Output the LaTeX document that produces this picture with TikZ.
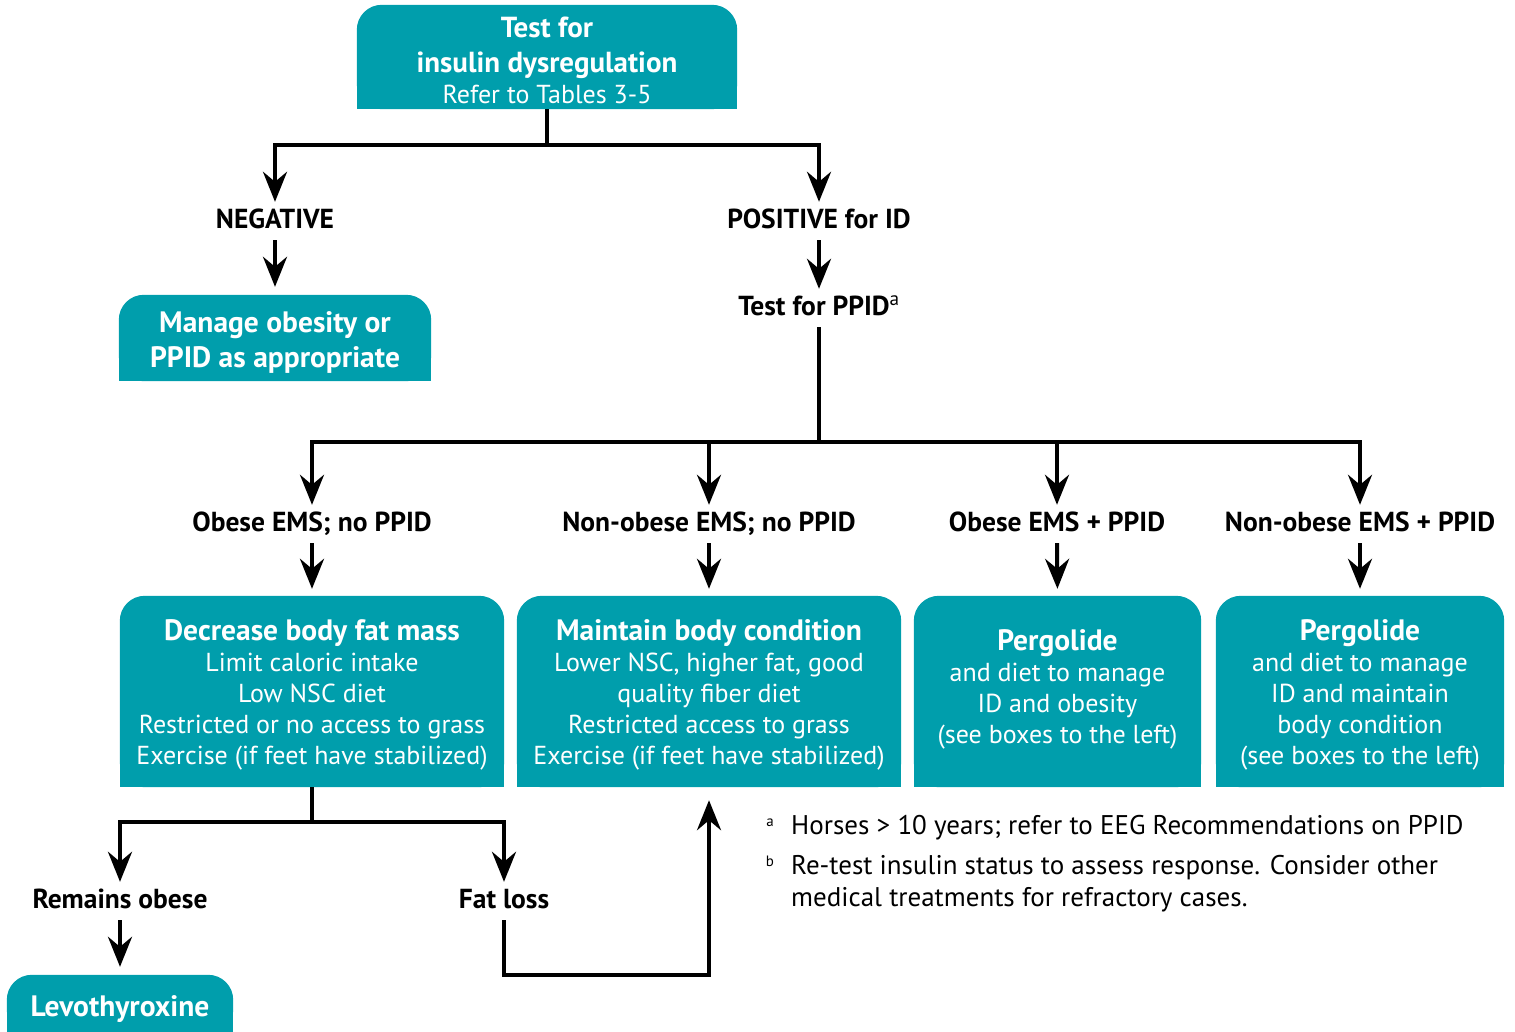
\documentclass[tikz,border=0pt]{standalone}
\usepackage{fontspec}
\setmainfont{PT Sans}
\usetikzlibrary{arrows.meta,backgrounds}
\definecolor{tealbox}{RGB}{0,158,172}
\newcommand\tbfill[1]{%
  \fill[tealbox,rounded corners=25pt] (#1.south west) rectangle (#1.north east);
  \fill[tealbox] (#1.south west) rectangle (#1.east);}
\newcommand\bt[1]{{\bfseries\fontsize{29.5}{31}\selectfont #1}}
\begin{document}
\begin{tikzpicture}[x=1pt,y=-1pt,
  ln/.style={line width=4pt},
  arr/.style={line width=4pt,-{Stealth[length=30pt,width=24pt,inset=10pt]}},
  box/.style={inner sep=0pt,text=white,align=center,font=\fontsize{26}{31}\selectfont},
  ttl/.style={font=\bfseries\fontsize{29.5}{35}\selectfont},
  lab/.style={anchor=base,font=\bfseries\fontsize{27.5}{30}\selectfont,text height=19pt,text depth=5pt,inner ysep=7pt,inner xsep=0pt},
  fn/.style={anchor=base west,inner sep=0pt,font=\fontsize{27}{32}\selectfont},
  fnm/.style={anchor=base,inner sep=0pt,font=\fontsize{15}{18}\selectfont}]
\useasboundingbox (0,0) rectangle (1515,1031);

% boxes
\node[box,minimum width=380pt,minimum height=104pt] (top) at (547,57)
  {\rule{0pt}{27pt}{\bfseries\fontsize{29}{35}\selectfont Test for}\\[4pt]{\bfseries\fontsize{29}{35}\selectfont insulin dysregulation}\\Refer to Tables 3-5};
\node[box,ttl,minimum width=312pt,minimum height=86pt] (manage) at (275,338)
  {\rule{0pt}{29pt}Manage obesity or\\PPID as appropriate};
\node[box,minimum width=384pt,minimum height=191pt] (b1) at (312,691.5)
  {\rule{0pt}{28pt}\bt{Decrease body fat mass}\\Limit caloric intake\\Low NSC diet\\Restricted or no access to grass\\Exercise (if feet have stabilized)};
\node[box,minimum width=384pt,minimum height=191pt] (b2) at (709,691.5)
  {\rule{0pt}{28pt}\bt{Maintain body condition}\\Lower NSC, higher fat, good\\quality fiber diet\\Restricted access to grass\\Exercise (if feet have stabilized)};
\node[box,minimum width=287pt,minimum height=191pt] (b3) at (1057.5,691.5)
  {\bt{Pergolide}\\and diet to manage\\ID and obesity\\(see boxes to the left)\rule[-9pt]{0pt}{1pt}};
\node[box,minimum width=288pt,minimum height=191pt] (b4) at (1360,691.5)
  {\rule{0pt}{28pt}\bt{Pergolide}\\and diet to manage\\ID and maintain\\body condition\\(see boxes to the left)};
\node[box,ttl,minimum width=226pt,minimum height=60pt] (levo) at (120,1005) {\rule{0pt}{29pt}Levothyroxine};

\begin{scope}[on background layer]
  \tbfill{top}\tbfill{manage}\tbfill{b1}\tbfill{b2}\tbfill{b3}\tbfill{b4}\tbfill{levo}
\end{scope}

% labels
\node[lab] (neg) at (275,228) {NEGATIVE};
\node[lab] (pos) at (819,228) {POSITIVE for ID};
\node[lab] (ppid) at (819,315) {Test for PPID\textsuperscript{\mdseries a}};
\node[lab] (o1) at (312,531) {Obese EMS; no PPID};
\node[lab] (o2) at (709,531) {Non-obese EMS; no PPID};
\node[lab] (o3) at (1057,531) {Obese EMS + PPID};
\node[lab] (o4) at (1360,531) {Non-obese EMS + PPID};
\node[lab] (rem) at (120,908) {Remains obese};
\node[lab] (fat) at (504,908) {Fat loss};

% footnotes
\node[fnm] (ma) at (770,826) {a};
\node[fn] (fa) at (791,834) {Horses > 10 years; refer to EEG Recommendations on PPID};
\node[fnm] (mb) at (770,866) {b};
\node[fn] (fb1) at (791,874) {Re-test insulin status to assess response. Consider other};
\node[fn] (fb2) at (791,906) {medical treatments for refractory cases.};

% connectors
\draw[ln] (top.south) -- ++(0,36) coordinate (j1);
\draw[arr] (j1) -| (neg.north);
\draw[arr] (j1) -| (pos.north);
\draw[arr,shorten >=8pt] (neg.south) -- (manage.north);
\draw[arr] (pos.south) -- (ppid.north);
\draw[ln] (ppid.south) -- ++(0,115) coordinate (j2);
\draw[arr] (j2) -| (o1.north);
\draw[arr] (j2) -| (o2.north);
\draw[arr] (j2) -| (o3.north);
\draw[arr] (j2) -| (o4.north);
\draw[arr,shorten >=7pt] (o1.south) -- (b1.north);
\draw[arr,shorten >=7pt] (o2.south) -- (b2.north);
\draw[arr,shorten >=7pt] (o3.south) -- (b3.north);
\draw[arr,shorten >=7pt] (o4.south) -- (b4.north);
\draw[ln] (b1.south) -- ++(0,35) coordinate (j3);
\draw[arr] (j3) -| (rem.north);
\draw[arr] (j3) -| (fat.north);
\draw[arr,shorten >=8pt] (rem.south) -- (levo.north);
\draw[arr,shorten >=13pt] (fat.south) -- ++(0,55) -| (b2.south);
\end{tikzpicture}
\end{document}
